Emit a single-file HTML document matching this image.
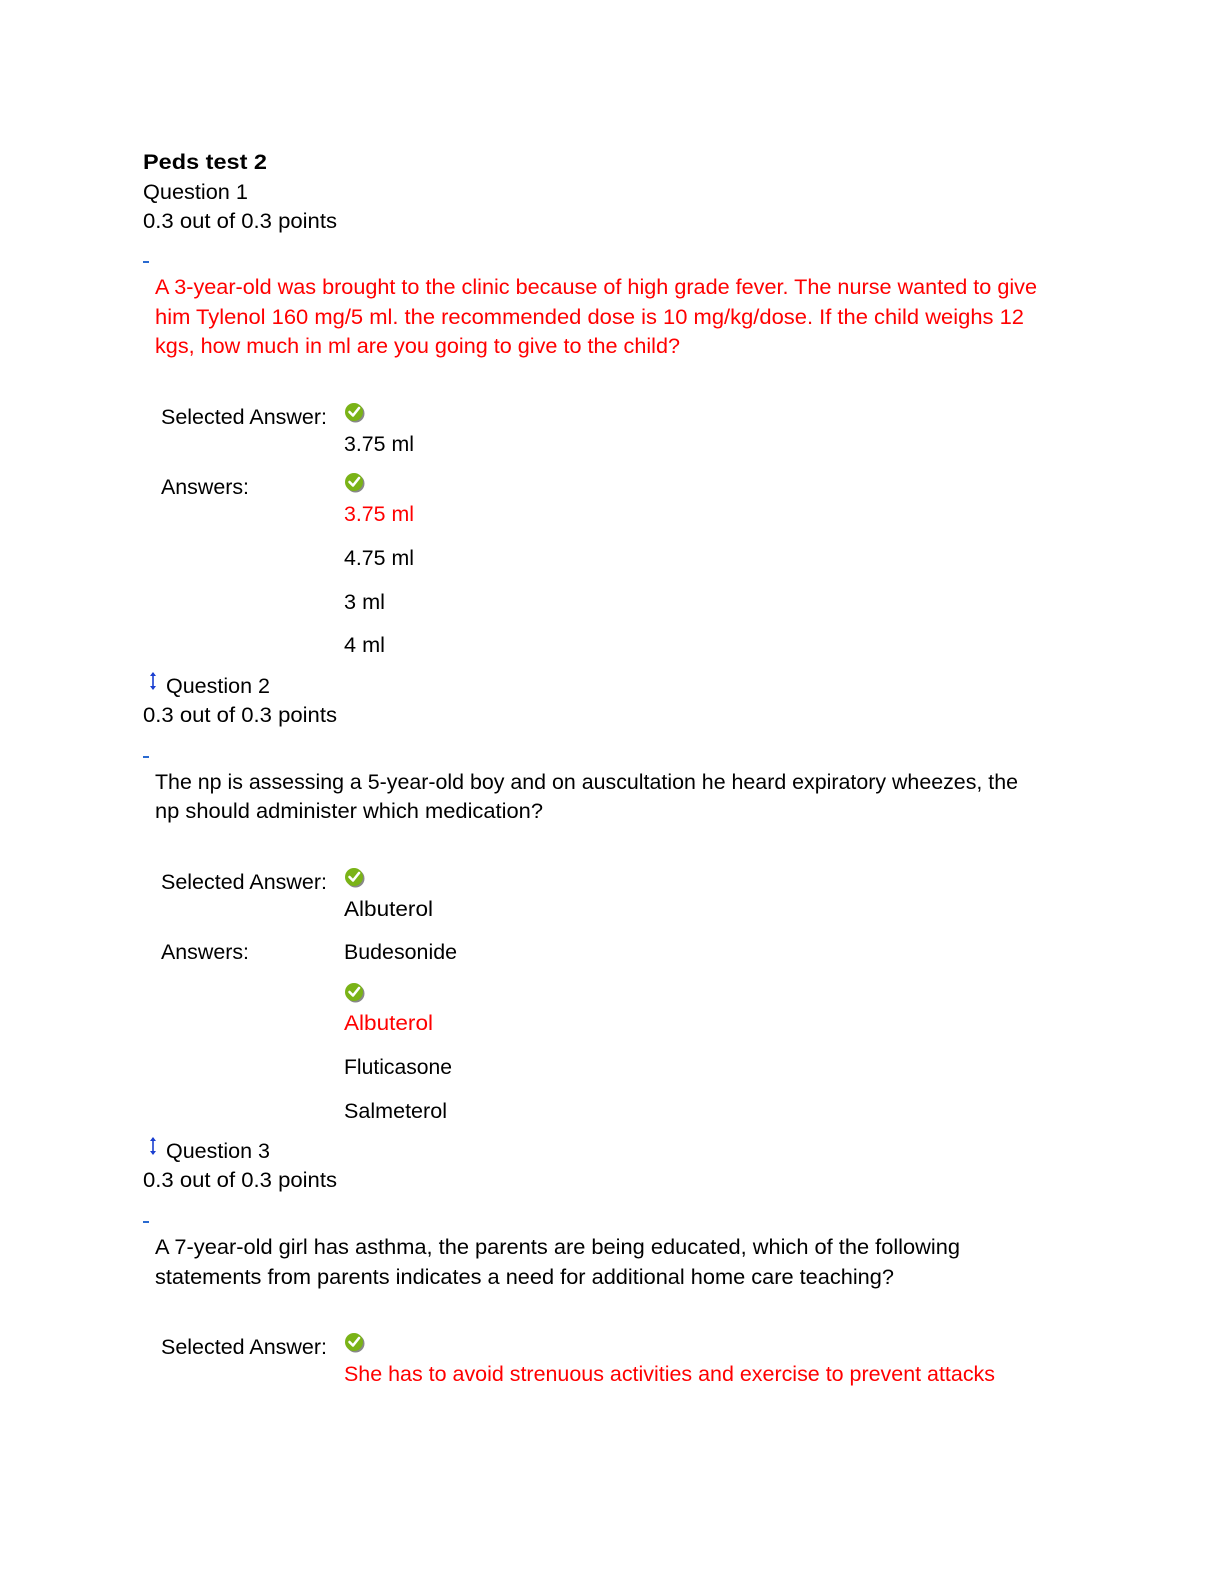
<!DOCTYPE html>
<html><head><meta charset="utf-8"><style>
html,body{margin:0;padding:0;background:#fff;}
svg{display:block;}
text{font-family:"Liberation Sans",sans-serif;font-size:21px;fill:#000;}
.r{fill:#f00;}
</style></head><body>
<svg width="1224" height="1584" viewBox="0 0 1224 1584" xmlns="http://www.w3.org/2000/svg">
<defs>
<g id="ck">
<circle cx="1.5" cy="1.5" r="9" fill="#888"/>
<circle cx="0" cy="0" r="9" fill="#7ab317"/>
<path d="M-4.5,0 L-1,3.5 L5,-4" stroke="#fff" stroke-width="2.6" fill="none" stroke-linecap="round" stroke-linejoin="round"/>
</g>
<g id="ar">
<line x1="0" y1="-8" x2="0" y2="8" stroke="#1a3fd0" stroke-width="1.6"/>
<path d="M-3,-5 L0,-9 L3,-5 Z M-3,5 L0,9 L3,5 Z" fill="#1a3fd0"/>
</g>
</defs>
<text x="143" y="169" font-weight="bold" font-size="23" textLength="124" lengthAdjust="spacingAndGlyphs">Peds test 2</text>
<text x="143" y="199" textLength="105" lengthAdjust="spacingAndGlyphs">Question 1</text>
<text x="143" y="228" textLength="194" lengthAdjust="spacingAndGlyphs">0.3 out of 0.3 points</text>
<rect x="143" y="261" width="6" height="2" fill="#2a6ad0"/>
<text class="r" x="155" y="294" textLength="882" lengthAdjust="spacingAndGlyphs">A 3-year-old was brought to the clinic because of high grade fever. The nurse wanted to give</text>
<text class="r" x="155" y="324" textLength="869" lengthAdjust="spacingAndGlyphs">him Tylenol 160 mg/5 ml. the recommended dose is 10 mg/kg/dose. If the child weighs 12</text>
<text class="r" x="155" y="353" textLength="525" lengthAdjust="spacingAndGlyphs">kgs, how much in ml are you going to give to the child?</text>
<text x="161" y="424" textLength="166" lengthAdjust="spacingAndGlyphs">Selected Answer:</text>
<use href="#ck" x="354" y="412"/>
<text x="344" y="451" textLength="70" lengthAdjust="spacingAndGlyphs">3.75 ml</text>
<text x="161" y="494" textLength="88" lengthAdjust="spacingAndGlyphs">Answers:</text>
<use href="#ck" x="354" y="482"/>
<text class="r" x="344" y="521" textLength="70" lengthAdjust="spacingAndGlyphs">3.75 ml</text>
<text x="344" y="565" textLength="70" lengthAdjust="spacingAndGlyphs">4.75 ml</text>
<text x="344" y="609" textLength="41" lengthAdjust="spacingAndGlyphs">3 ml</text>
<text x="344" y="652" textLength="41" lengthAdjust="spacingAndGlyphs">4 ml</text>
<use href="#ar" x="153" y="681"/>
<text x="166" y="693" textLength="104" lengthAdjust="spacingAndGlyphs">Question 2</text>
<text x="143" y="722" textLength="194" lengthAdjust="spacingAndGlyphs">0.3 out of 0.3 points</text>
<rect x="143" y="756" width="6" height="2" fill="#2a6ad0"/>
<text x="155" y="789" textLength="863" lengthAdjust="spacingAndGlyphs">The np is assessing a 5-year-old boy and on auscultation he heard expiratory wheezes, the</text>
<text x="155" y="818" textLength="388" lengthAdjust="spacingAndGlyphs">np should administer which medication?</text>
<text x="161" y="889" textLength="166" lengthAdjust="spacingAndGlyphs">Selected Answer:</text>
<use href="#ck" x="354" y="877"/>
<text x="344" y="916" textLength="89" lengthAdjust="spacingAndGlyphs">Albuterol</text>
<text x="161" y="959" textLength="88" lengthAdjust="spacingAndGlyphs">Answers:</text>
<text x="344" y="959" textLength="113" lengthAdjust="spacingAndGlyphs">Budesonide</text>
<use href="#ck" x="354" y="992"/>
<text class="r" x="344" y="1030" textLength="89" lengthAdjust="spacingAndGlyphs">Albuterol</text>
<text x="344" y="1074" textLength="108" lengthAdjust="spacingAndGlyphs">Fluticasone</text>
<text x="344" y="1118" textLength="103" lengthAdjust="spacingAndGlyphs">Salmeterol</text>
<use href="#ar" x="153" y="1146"/>
<text x="166" y="1158" textLength="104" lengthAdjust="spacingAndGlyphs">Question 3</text>
<text x="143" y="1187" textLength="194" lengthAdjust="spacingAndGlyphs">0.3 out of 0.3 points</text>
<rect x="143" y="1221" width="6" height="2" fill="#2a6ad0"/>
<text x="155" y="1254" textLength="805" lengthAdjust="spacingAndGlyphs">A 7-year-old girl has asthma, the parents are being educated, which of the following</text>
<text x="155" y="1284" textLength="739" lengthAdjust="spacingAndGlyphs">statements from parents indicates a need for additional home care teaching?</text>
<text x="161" y="1354" textLength="166" lengthAdjust="spacingAndGlyphs">Selected Answer:</text>
<use href="#ck" x="354" y="1342"/>
<text class="r" x="344" y="1381" textLength="651" lengthAdjust="spacingAndGlyphs">She has to avoid strenuous activities and exercise to prevent attacks</text>
</svg>
</body></html>
